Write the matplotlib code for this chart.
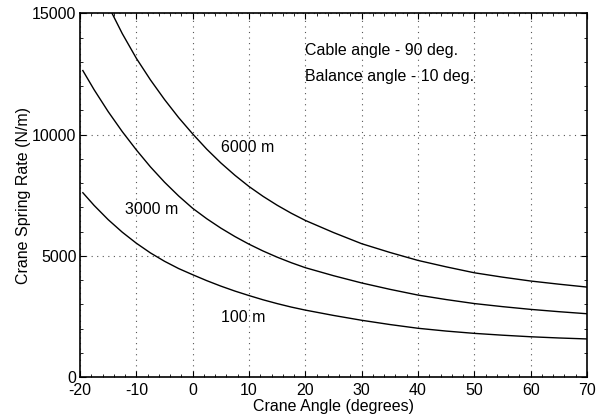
import numpy as np
import matplotlib
matplotlib.use("Agg")
import matplotlib.pyplot as plt
from matplotlib.ticker import AutoMinorLocator

plt.rcParams['font.family'] = ['Liberation Sans', 'DejaVu Sans']
plt.rcParams['axes.unicode_minus'] = False

# crane angle (deg) and spring rate (N/m)
x_100 = [-19.5, -17.5, -15, -12.5, -10, -7.5, -5, -2.5, 0, 2.5, 5, 7.5, 10, 12.5,
         15, 17.5, 20, 25, 30, 35, 40, 45, 50, 55, 60, 65, 70]
k_100 = [7604, 7080, 6492, 5975, 5520, 5120, 4775, 4475, 4220, 3975, 3750, 3545,
         3360, 3185, 3028, 2885, 2760, 2540, 2340, 2165, 2010, 1895, 1800, 1725,
         1660, 1610, 1570]

x_3000 = [-19.5, -17.5, -15, -12.5, -10, -7.5, -5, -2.5, 0, 2.5, 5, 7.5, 10, 12.5,
          15, 17.5, 20, 25, 30, 35, 40, 45, 50, 55, 60, 65, 70]
k_3000 = [12645, 11855, 10950, 10125, 9370, 8670, 8039, 7471, 6960, 6530, 6143,
          5795, 5480, 5198, 4944, 4716, 4510, 4180, 3880, 3618, 3380, 3195, 3030,
          2903, 2790, 2695, 2610]

x_6000 = [-14.3, -12.5, -10, -7.5, -5, -2.5, 0, 2.5, 5, 7.5, 10, 12.5, 15, 17.5,
          20, 25, 30, 35, 40, 45, 50, 55, 60, 65, 70]
k_6000 = [15000, 14170, 13150, 12260, 11450, 10705, 10030, 9400, 8833, 8323, 7860,
          7453, 7087, 6757, 6460, 5960, 5500, 5140, 4810, 4545, 4300, 4120, 3960,
          3830, 3710]

fig = plt.figure(figsize=(6.03, 4.20), dpi=100)
ax = fig.add_axes([0.1327, 0.1024, 0.8408, 0.8655])

for xs, ks in [(x_100, k_100), (x_3000, k_3000), (x_6000, k_6000)]:
    ax.plot(xs, ks, color='black', lw=1.0)

fs = 11.5
ax.text(5, 9450, '6000 m', fontsize=fs, va='center')
ax.text(-12, 6930, '3000 m', fontsize=fs, va='center')
ax.text(5, 2450, '100 m', fontsize=fs, va='center')
ax.text(20, 13470, 'Cable angle - 90 deg.', fontsize=fs, va='center')
ax.text(20, 12390, 'Balance angle - 10 deg.', fontsize=fs, va='center')

ax.set_xlim(-20, 70)
ax.set_ylim(0, 15000)
ax.set_xticks(np.arange(-20, 71, 10))
ax.set_yticks([0, 5000, 10000, 15000])
ax.xaxis.set_minor_locator(AutoMinorLocator(5))
ax.yaxis.set_minor_locator(AutoMinorLocator(5))
ax.grid(True, which='major', color='#555555', linestyle=(0, (1, 4)), lw=0.8)
ax.tick_params(which='both', direction='in', top=True, right=True, labelsize=fs)
ax.tick_params(axis='x', which='major', pad=4)
ax.tick_params(axis='y', which='major', pad=2.5)
ax.tick_params(which='major', length=4)
ax.tick_params(which='minor', length=2)
for s in ax.spines.values():
    s.set_linewidth(1.2)

ax.set_xlabel('Crane Angle (degrees)', fontsize=fs, labelpad=1)
ax.set_ylabel('Crane Spring Rate (N/m)', fontsize=fs, labelpad=1)

fig.savefig('out.png', dpi=100)
